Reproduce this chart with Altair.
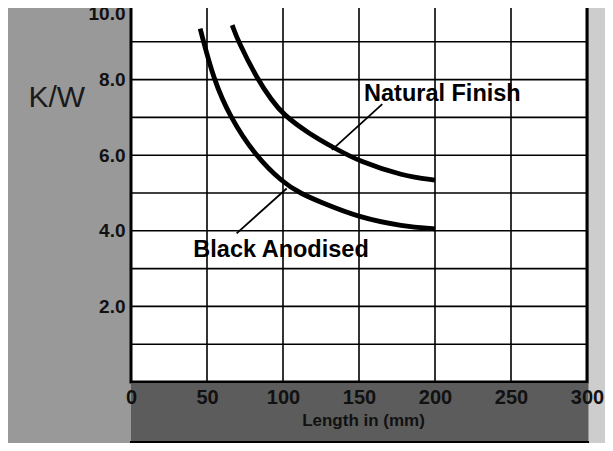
import altair as alt
import pandas as pd

# ---- data ----
black_x = [45.5, 54.3, 65.3, 81.5, 100.0, 112.0, 124.0, 150.0, 179.0, 200.0]
black_y = [9.35, 8.00, 7.00, 6.00, 5.27, 4.98, 4.77, 4.35, 4.12, 4.05]
natural_x = [66.6, 70.6, 83.3, 92.5, 100.0, 116.7, 134.2, 150.0, 179.0, 200.0]
natural_y = [9.44, 9.00, 8.00, 7.46, 7.08, 6.58, 6.18, 5.84, 5.45, 5.34]

x_ticks = [0, 50, 100, 150, 200, 250, 300]
y_grid = [0, 1, 2, 3, 4, 5, 6, 7, 8, 9, 10]
y_labels = [2, 4, 6, 8, 10]

label_text = ["Natural Finish", "Black Anodised"]
label_x = [153.3, 41.0]
label_y = [7.44, 3.30]
leader_x = [132.2, 102.4]
leader_y = [6.14, 5.12]
leader_x2 = [165.3, 69.5]
leader_y2 = [7.35, 3.93]

# ---- layout ----
W, H = 456, 378
FONT = "Liberation Sans"

curves = pd.DataFrame(
    {
        "series": ["Black Anodised"] * len(black_x) + ["Natural Finish"] * len(natural_x),
        "x": black_x + natural_x,
        "y": black_y + natural_y,
    }
)
labels = pd.DataFrame({"text": label_text, "x": label_x, "y": label_y})
leaders = pd.DataFrame({"x": leader_x, "y": leader_y, "x2": leader_x2, "y2": leader_y2})
vgrid = pd.DataFrame({"x": x_ticks})
hgrid = pd.DataFrame({"y": y_grid})
one = pd.DataFrame({"d": [0]})

xs = alt.Scale(domain=[0, 300], nice=False, zero=False)
ys = alt.Scale(domain=[0, 10], nice=False)

x_axis = alt.Axis(
    values=x_ticks,
    grid=False,
    domain=False,
    ticks=False,
    labelFlush=False,
    labelOverlap=False,
    labelFont=FONT,
    labelFontSize=20,
    labelFontWeight="bold",
    labelColor="#111111",
    labelPadding=5,
    title="Length in (mm)",
    titleFont=FONT,
    titleFontSize=17,
    titleFontWeight="bold",
    titleColor="#111111",
    titleX=232,
    titleY=38,
    titleAlign="center",
    titleBaseline="middle",
    zindex=1,
)
y_axis = alt.Axis(
    values=y_labels,
    grid=False,
    domain=False,
    ticks=False,
    labelFlush=False,
    labelOverlap=False,
    format=".1f",
    labelOffset={"condition": {"test": "datum.value == 10", "value": 9}, "value": 0},
    labelFont=FONT,
    labelFontSize=19,
    labelFontWeight="bold",
    labelColor="#111111",
    labelPadding=6,
    title="K/W",
    titleFont=FONT,
    titleFontSize=30,
    titleFontWeight="normal",
    titleColor="#1a1a1a",
    titleAngle=0,
    titleAlign="left",
    titleBaseline="alphabetic",
    titleX=-103,
    titleY=102,
    zindex=1,
)

# decorative background pieces (outside the plot area)
band = alt.Chart(one).mark_rect(color="#5c5c5c").encode(
    x=alt.value(0), x2=alt.value(W + 1), y=alt.value(H + 1), y2=alt.value(H + 60)
)
right_strip = alt.Chart(one).mark_rect(color="#cdcdcd").encode(
    x=alt.value(W + 2), x2=alt.value(W + 40), y=alt.value(-10), y2=alt.value(H + 80)
)
bottom_box = alt.Chart(one).mark_rect(fill="white", stroke="black", strokeWidth=2).encode(
    x=alt.value(0), x2=alt.value(W + 1), y=alt.value(H + 60), y2=alt.value(H + 90)
)

vrules = alt.Chart(vgrid).mark_rule(color="black", strokeWidth=1.6).encode(
    x=alt.X("x:Q", scale=xs, axis=x_axis), y=alt.value(0), y2=alt.value(H)
)
hrules = alt.Chart(hgrid).mark_rule(color="black", strokeWidth=1.6).encode(
    y=alt.Y("y:Q", scale=ys, axis=y_axis), x=alt.value(0), x2=alt.value(W)
)

lines = alt.Chart(curves).mark_line(color="black", strokeWidth=4.8, interpolate="basis").encode(
    x=alt.X("x:Q", scale=xs),
    y=alt.Y("y:Q", scale=ys),
    detail="series:N",
)
leader_rules = alt.Chart(leaders).mark_rule(color="black", strokeWidth=1.8).encode(
    x=alt.X("x:Q", scale=xs), y=alt.Y("y:Q", scale=ys), x2="x2:Q", y2="y2:Q"
)
texts = alt.Chart(labels).mark_text(
    align="left", baseline="alphabetic", font=FONT, fontSize=23.5, fontWeight="bold", color="black"
).encode(
    x=alt.X("x:Q", scale=xs), y=alt.Y("y:Q", scale=ys), text="text:N"
)

chart = (
    alt.layer(band, right_strip, bottom_box, vrules, hrules, lines, leader_rules, texts)
    .properties(
        width=W,
        height=H,
        autosize=alt.AutoSizeParams(type="none"),
        padding={"left": 123, "top": -4, "right": 18, "bottom": 61},
        background="#999999",
    )
    .configure_view(fill="white", stroke="black", strokeWidth=3)
)

chart.save("out.html", embed_options={"renderer": "svg", "actions": False})
